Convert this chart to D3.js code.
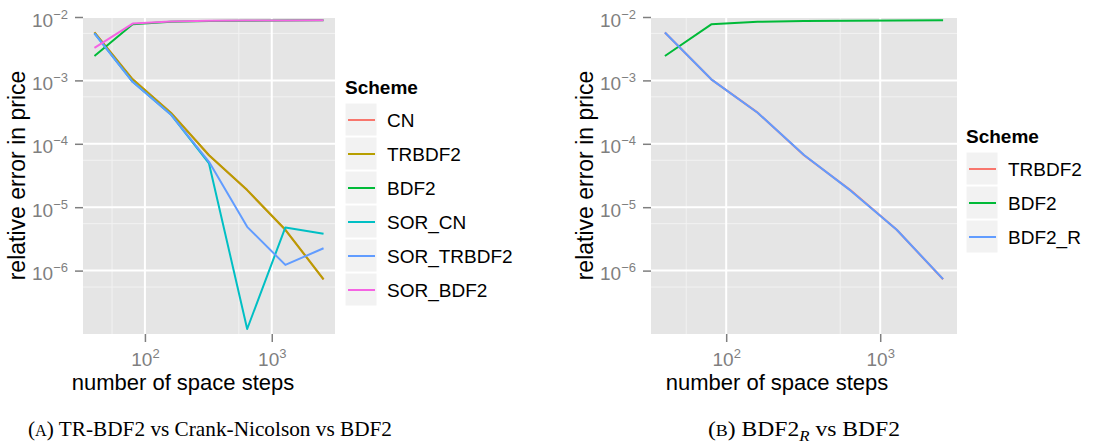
<!DOCTYPE html>
<html>
<head>
<meta charset="utf-8">
<script src="https://cdn.jsdelivr.net/npm/d3@7/dist/d3.min.js"></script>
<style>
  html, body { margin: 0; padding: 0; background: #ffffff; }
  svg { display: block; }
</style>
</head>
<body>
<svg id="chart" width="1094" height="448"></svg>
<script>
// Number of space steps used in the convergence study
const steps = [40, 80, 160, 320, 640, 1280, 2560];

// Relative error in price, panel (A)
const errCN        = [5.7e-3, 1.04e-3, 3.1e-4, 6.6e-5, 1.86e-5, 4.4e-6, 7.3e-7];
const errTRBDF2    = [5.7e-3, 1.04e-3, 3.1e-4, 6.6e-5, 1.86e-5, 4.4e-6, 7.3e-7];
const errBDF2      = [2.43e-3, 7.67e-3, 8.4e-3, 8.65e-3, 8.75e-3, 8.8e-3, 8.85e-3];
const errSOR_CN    = [5.5e-3, 9.5e-4, 2.9e-4, 4.9e-5, 1.2e-7, 4.8e-6, 3.8e-6];
const errSOR_TRBDF2= [5.5e-3, 9.5e-4, 2.9e-4, 5.2e-5, 4.9e-6, 1.23e-6, 2.25e-6];
const errSOR_BDF2  = [3.25e-3, 7.87e-3, 8.5e-3, 8.7e-3, 8.78e-3, 8.82e-3, 8.87e-3];

// Relative error in price, panel (B)
const errBDF2R     = [5.68e-3, 1.04e-3, 3.09e-4, 6.65e-5, 1.84e-5, 4.4e-6, 7.35e-7];

const schemesA = ["CN", "TRBDF2", "BDF2", "SOR_CN", "SOR_TRBDF2", "SOR_BDF2"];
const seriesA  = [errCN, errTRBDF2, errBDF2, errSOR_CN, errSOR_TRBDF2, errSOR_BDF2];
const schemesB = ["TRBDF2", "BDF2", "BDF2_R"];
const seriesB  = [errTRBDF2, errBDF2, errBDF2R];

// Axis breaks and labels
const xTicks = [100, 1000];
const xTickExp = ["2", "3"];
const yTicks = [1e-2, 1e-3, 1e-4, 1e-5, 1e-6];
const yTickExp = ["\u22122", "\u22123", "\u22124", "\u22125", "\u22126"];
const yLimits = [1e-7, 1e-2];

const xTitle = "number of space steps";
const yTitle = "relative error in price";
const legendTitle = "Scheme";

// ggplot2 hue palettes
const hue6 = ["#F8766D", "#B79F00", "#00BA38", "#00BFC4", "#619CFF", "#F564E3"];
const hue3 = ["#F8766D", "#00BA38", "#619CFF"];

const SANS = "'Liberation Sans', Arial, Helvetica, sans-serif";
const SERIF = "'Liberation Serif', 'Times New Roman', serif";

const svg = d3.select("#chart");

function drawPanel(opt) {
  const { left, right, top, bottom, names, series, colors, ytitleX, xtitleX, legendX, legendY } = opt;

  // x range in log space padded by 5% on each side
  const lx = d3.extent(steps).map(Math.log10);
  const pad = (lx[1] - lx[0]) * 0.05;
  const x = d3.scaleLog().domain([Math.pow(10, lx[0] - pad), Math.pow(10, lx[1] + pad)]).range([left, right]);
  const y = d3.scaleLog().domain(yLimits).range([bottom, top]);

  const g = svg.append("g");

  // panel background
  g.append("rect").attr("x", left).attr("y", top)
    .attr("width", right - left).attr("height", bottom - top)
    .attr("fill", "#E5E5E5");

  // minor grid: midpoints between major breaks on the raw scale
  const xMinor = [];
  [10, 100, 1000].forEach(v => xMinor.push((v + v * 10) / 2));
  const yMinor = [];
  [1e-7, 1e-6, 1e-5, 1e-4, 1e-3].forEach(v => yMinor.push((v + v * 10) / 2));

  g.selectAll(".xminor").data(xMinor.filter(v => x(v) > left && x(v) < right)).enter()
    .append("line").attr("x1", d => x(d)).attr("x2", d => x(d))
    .attr("y1", top).attr("y2", bottom)
    .attr("stroke", "#F2F2F2").attr("stroke-width", 1);
  g.selectAll(".yminor").data(yMinor.filter(v => y(v) > top && y(v) < bottom)).enter()
    .append("line").attr("y1", d => y(d)).attr("y2", d => y(d))
    .attr("x1", left).attr("x2", right)
    .attr("stroke", "#F2F2F2").attr("stroke-width", 1);

  // major grid
  g.selectAll(".xmajor").data(xTicks).enter()
    .append("line").attr("x1", d => x(d)).attr("x2", d => x(d))
    .attr("y1", top).attr("y2", bottom)
    .attr("stroke", "#FFFFFF").attr("stroke-width", 2);
  g.selectAll(".ymajor").data(yTicks).enter()
    .append("line").attr("y1", d => y(d)).attr("y2", d => y(d))
    .attr("x1", left).attr("x2", right)
    .attr("stroke", "#FFFFFF").attr("stroke-width", 2);

  // series lines
  const line = d3.line().x(d => x(d[0])).y(d => y(d[1]));
  series.forEach((vals, i) => {
    g.append("path")
      .datum(steps.map((s, k) => [s, vals[k]]))
      .attr("d", line)
      .attr("fill", "none")
      .attr("stroke", colors[i])
      .attr("stroke-width", 2)
      .attr("stroke-linejoin", "round");
  });

  // y axis
  const yAxis = d3.axisLeft(y).tickValues(yTicks).tickSize(8).tickPadding(7).tickFormat("");
  const ga = g.append("g").attr("transform", `translate(${left},0)`).call(yAxis);
  ga.select(".domain").remove();
  ga.selectAll(".tick line").attr("stroke", "#7F7F7F").attr("stroke-width", 1.5);
  ga.selectAll(".tick text").each(function(d, i) {
    const t = d3.select(this);
    t.attr("dy", null).attr("y", 9).attr("text-anchor", "end")
      .attr("fill", "#7F7F7F").style("font-family", SANS).style("font-size", "19px");
    t.append("tspan").text("10");
    t.append("tspan").attr("dy", -8).style("font-size", "13px").text(yTickExp[i]);
  });

  // x axis
  const xAxis = d3.axisBottom(x).tickValues(xTicks).tickSize(8).tickPadding(12).tickFormat("");
  const gb = g.append("g").attr("transform", `translate(0,${bottom})`).call(xAxis);
  gb.select(".domain").remove();
  gb.selectAll(".tick line").attr("stroke", "#7F7F7F").attr("stroke-width", 1.5);
  gb.selectAll(".tick text").each(function(d, i) {
    const t = d3.select(this);
    t.attr("dy", null).attr("y", 32).attr("text-anchor", "middle")
      .attr("fill", "#7F7F7F").style("font-family", SANS).style("font-size", "19px");
    t.append("tspan").text("10");
    t.append("tspan").attr("dy", -8).style("font-size", "13px").text(xTickExp[i]);
  });

  // axis titles
  g.append("text")
    .attr("x", xtitleX).attr("y", 390)
    .attr("text-anchor", "middle")
    .style("font-family", SANS).style("font-size", "22px").attr("fill", "#000")
    .text(xTitle);
  g.append("text")
    .attr("transform", `translate(${ytitleX},${(top + bottom) / 2}) rotate(-90)`)
    .attr("text-anchor", "middle")
    .style("font-family", SANS).style("font-size", "23px").attr("fill", "#000")
    .text(yTitle);

  // legend
  const lg = g.append("g").attr("transform", `translate(${legendX},${legendY})`);
  lg.append("text").attr("x", 0).attr("y", 0)
    .style("font-family", SANS).style("font-size", "19px").style("font-weight", "bold")
    .text(legendTitle);
  const keyH = 34;
  names.forEach((nm, i) => {
    const ky = 9 + i * keyH;
    lg.append("rect").attr("x", 0).attr("y", ky).attr("width", 32).attr("height", keyH - 1)
      .attr("fill", "#F2F2F2").attr("stroke", "#FFFFFF").attr("stroke-width", 1);
    lg.append("line").attr("x1", 3).attr("x2", 30)
      .attr("y1", ky + keyH / 2).attr("y2", ky + keyH / 2)
      .attr("stroke", colors[i]).attr("stroke-width", 2);
    lg.append("text").attr("x", 42).attr("y", ky + keyH / 2 + 7)
      .style("font-family", SANS).style("font-size", "19px").attr("fill", "#000")
      .text(nm);
  });
}

drawPanel({
  left: 83, right: 335, top: 17, bottom: 334,
  names: schemesA, series: seriesA, colors: hue6,
  ytitleX: 25, xtitleX: 183, legendX: 345, legendY: 94
});

drawPanel({
  left: 651, right: 957, top: 17, bottom: 334,
  names: schemesB, series: seriesB, colors: hue3,
  ytitleX: 593, xtitleX: 777, legendX: 966, legendY: 143
});

// sub-figure captions
const capA = svg.append("text").attr("x", 28).attr("y", 436)
  .attr("textLength", 364).attr("lengthAdjust", "spacingAndGlyphs")
  .style("font-family", SERIF).style("font-size", "21px").attr("fill", "#000");
capA.append("tspan").text("(");
capA.append("tspan").style("font-size", "16px").text("A");
capA.append("tspan").text(") TR-BDF2 vs Crank-Nicolson vs BDF2");

const capB = svg.append("text").attr("x", 708).attr("y", 436)
  .attr("textLength", 192).attr("lengthAdjust", "spacingAndGlyphs")
  .style("font-family", SERIF).style("font-size", "21px").attr("fill", "#000");
capB.append("tspan").text("(");
capB.append("tspan").style("font-size", "16px").text("B");
capB.append("tspan").text(") BDF2");
capB.append("tspan").attr("dy", 5).style("font-size", "15px").style("font-style", "italic").text("R");
capB.append("tspan").attr("dy", -5).text(" vs BDF2");
</script>
</body>
</html>
